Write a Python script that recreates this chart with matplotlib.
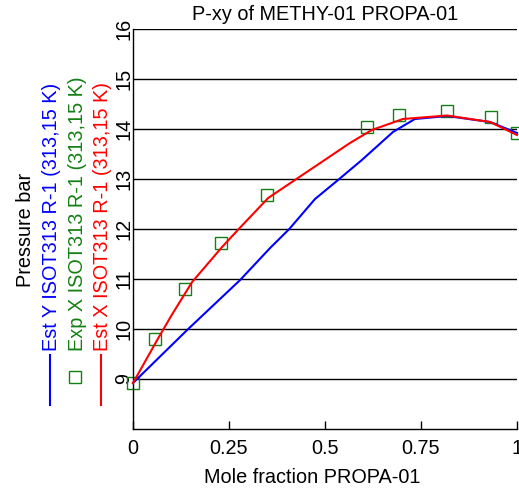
#! /usr/bin/env python3
# coding=utf-8

import matplotlib
matplotlib.use('Agg')
import matplotlib.pyplot as plt
from matplotlib.lines import Line2D

plt.rcParams['font.family'] = ['Liberation Sans', 'DejaVu Sans']
plt.rcParams['font.size'] = 14.3

# 实验数据 Exp X
exp_x = [0.0, 0.057, 0.135, 0.229, 0.349, 0.609, 0.693, 0.818, 0.932, 1.0]
exp_p = [8.92, 9.80, 10.80, 11.72, 12.68, 14.04, 14.28, 14.36, 14.24, 13.92]

# 计算曲线 Est X
estx_x = [0.0, 0.063, 0.10, 0.154, 0.232, 0.273, 0.352, 0.565, 0.622, 0.703, 0.818, 0.93, 1.0]
estx_p = [8.92, 9.78, 10.27, 10.94, 11.64, 11.98, 12.62, 13.72, 13.98, 14.20, 14.27, 14.14, 13.88]

# 计算曲线 Est Y
esty_x = [0.0, 0.141, 0.279, 0.357, 0.407, 0.474, 0.534, 0.596, 0.677, 0.734, 0.818, 0.93, 1.0]
esty_p = [8.92, 9.98, 10.98, 11.62, 12.0, 12.6, 12.98, 13.38, 13.94, 14.2, 14.26, 14.14, 13.92]

xticks = [0, 0.25, 0.5, 0.75, 1]
xtick_labels = ['0', '0.25', '0.5', '0.75', '1']
yticks = [9, 10, 11, 12, 13, 14, 15, 16]

blue = '#0000ff'
green = '#138013'
red = '#ff0000'

W, H = 519, 488
fig = plt.figure(figsize=(W / 100, H / 100), dpi=100)
ax = fig.add_axes([133 / W, 1 - 429 / H, (517 - 133) / W, (429 - 29) / H])

ax.plot(esty_x, esty_p, color=blue, linewidth=1.5, clip_on=False, zorder=3)
ax.plot(exp_x, exp_p, linestyle='none', marker='s', markersize=9, markerfacecolor='none',
        markeredgecolor=green, markeredgewidth=1.0, clip_on=False, zorder=2)
ax.plot(estx_x, estx_p, color=red, linewidth=1.5, clip_on=False, zorder=4)

ax.set_xlim(0, 1)
ax.set_ylim(8, 16)
for y in yticks:
    ax.axhline(y, color='black', linewidth=1.0, zorder=1)

ax.spines['top'].set_visible(False)
ax.spines['right'].set_visible(False)
ax.spines['left'].set_linewidth(1.0)
ax.spines['bottom'].set_linewidth(1.0)

ax.set_xticks(xticks)
ax.set_xticklabels(xtick_labels)
ax.tick_params(axis='x', direction='in', length=6, width=1.0, pad=7.5)
ax.set_yticks(yticks)
ax.set_yticklabels([str(y) for y in yticks])
ax.tick_params(axis='y', length=0, pad=2.5)
plt.setp(ax.get_yticklabels(), rotation=90, rotation_mode='anchor', ha='center', va='baseline')

ax.set_title('P-xy of METHY-01 PROPA-01', pad=6.5, fontsize=14.3)
fig.text(312 / W, 1 - 483 / H, 'Mole fraction PROPA-01', ha='center', va='baseline')

# 纵轴标题与图例（竖排文字）
fig.text(31 / W, 1 - 230 / H, 'Pressure bar', rotation=90, rotation_mode='anchor',
         ha='center', va='baseline')
labels = ['Est Y ISOT313 R-1 (313,15 K)', 'Exp X ISOT313 R-1 (313,15 K)', 'Est X ISOT313 R-1 (313,15 K)']
colors = [blue, green, red]
base_x = [57, 83, 108]
for i in range(3):
    fig.text(base_x[i] / W, 1 - 351 / H, labels[i], color=colors[i], rotation=90,
             rotation_mode='anchor', ha='left', va='baseline')
fig.add_artist(Line2D([50 / W, 50 / W], [1 - 405 / H, 1 - 355 / H], color=blue, linewidth=1.5))
fig.add_artist(Line2D([75 / W], [1 - 377 / H], marker='s', markersize=9, markerfacecolor='none',
                      markeredgecolor=green, markeredgewidth=1.0))
fig.add_artist(Line2D([101 / W, 101 / W], [1 - 405 / H, 1 - 355 / H], color=red, linewidth=1.5))

plt.savefig('out.png', dpi=100)
